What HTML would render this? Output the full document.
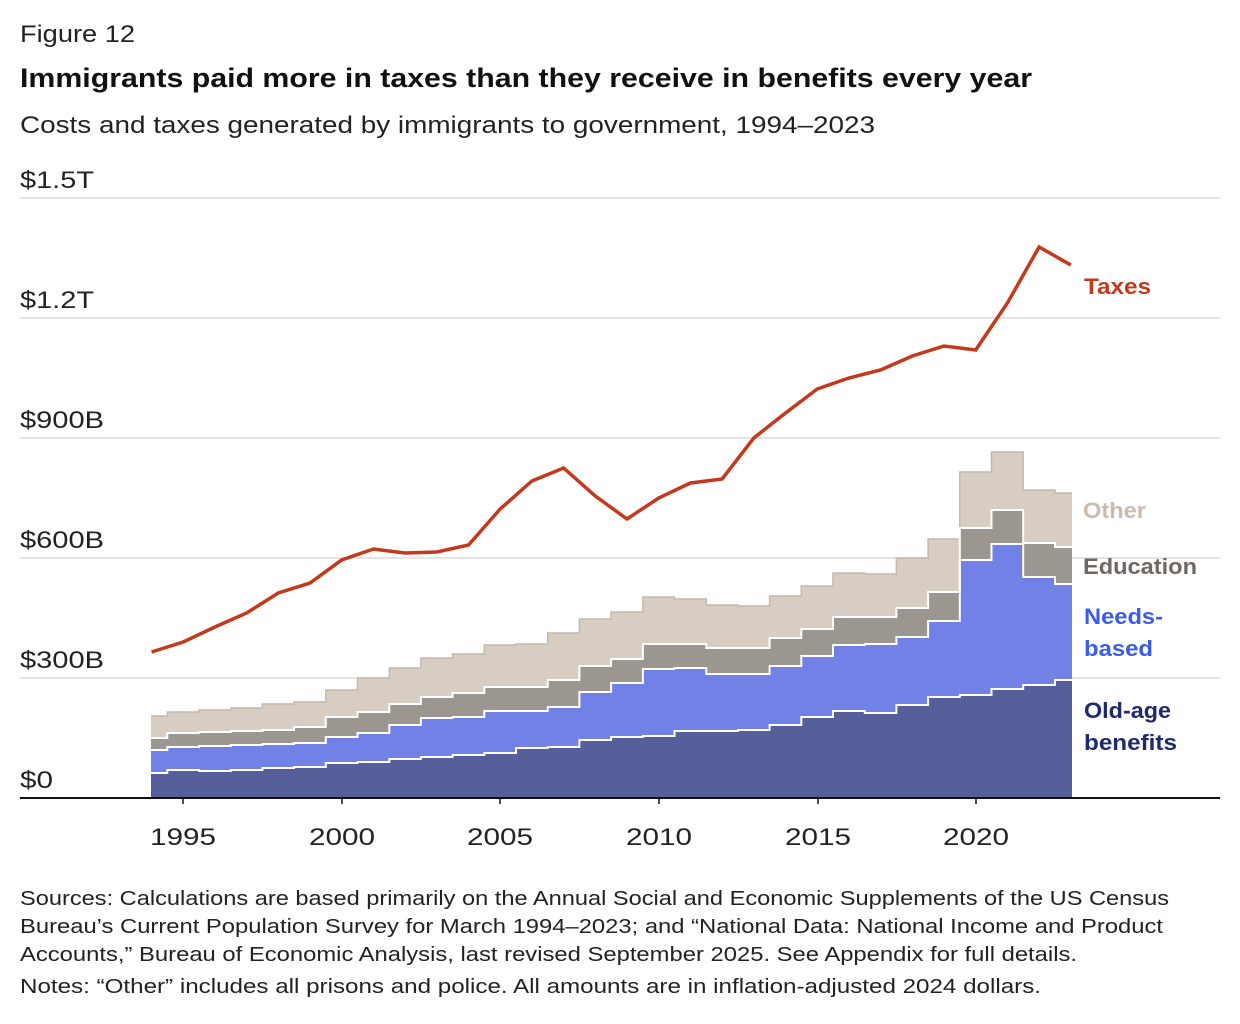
<!DOCTYPE html>
<html><head><meta charset="utf-8"><style>
body{margin:0;background:#fff;width:1240px;height:1024px;overflow:hidden;font-family:"Liberation Sans",sans-serif;color:#222}
svg{position:absolute;left:0;top:0}
</style></head><body>
<svg id="s" width="1240" height="1024" xmlns="http://www.w3.org/2000/svg" font-family="Liberation Sans, sans-serif">
<g lengthAdjust="spacingAndGlyphs">
<text x="20" y="42" font-size="24" fill="#222" textLength="115" lengthAdjust="spacingAndGlyphs">Figure 12</text>
<text x="20" y="87" font-size="27" font-weight="bold" fill="#111" textLength="1012" lengthAdjust="spacingAndGlyphs">Immigrants paid more in taxes than they receive in benefits every year</text>
<text x="20" y="133" font-size="24" fill="#222" textLength="855" lengthAdjust="spacingAndGlyphs">Costs and taxes generated by immigrants to government, 1994–2023</text>
</g>
<g stroke="#dcdcdc" stroke-width="1.5">
<line x1="20" x2="1220" y1="198" y2="198"/><line x1="20" x2="1220" y1="318" y2="318"/>
<line x1="20" x2="1220" y1="438" y2="438"/><line x1="20" x2="1220" y1="558" y2="558"/>
<line x1="20" x2="1220" y1="678" y2="678"/>
</g>
<g font-size="24" fill="#222">
<text x="20" y="188" textLength="74" lengthAdjust="spacingAndGlyphs">$1.5T</text>
<text x="20" y="308" textLength="74" lengthAdjust="spacingAndGlyphs">$1.2T</text>
<text x="20" y="428" textLength="84" lengthAdjust="spacingAndGlyphs">$900B</text>
<text x="20" y="548" textLength="84" lengthAdjust="spacingAndGlyphs">$600B</text>
<text x="20" y="668" textLength="84" lengthAdjust="spacingAndGlyphs">$300B</text>
<text x="20" y="788" textLength="33" lengthAdjust="spacingAndGlyphs">$0</text>
</g>
<g id="areas"></g>
<line x1="20" x2="1220" y1="798" y2="798" stroke="#111" stroke-width="2"/>
<g stroke="#111" stroke-width="1.5">
<line x1="183" x2="183" y1="798" y2="804"/><line x1="342" x2="342" y1="798" y2="804"/><line x1="500" x2="500" y1="798" y2="804"/>
<line x1="659" x2="659" y1="798" y2="804"/><line x1="818" x2="818" y1="798" y2="804"/><line x1="976" x2="976" y1="798" y2="804"/>
</g>
<g font-size="24" fill="#222">
<text x="150" y="845" textLength="66" lengthAdjust="spacingAndGlyphs">1995</text>
<text x="309" y="845" textLength="66" lengthAdjust="spacingAndGlyphs">2000</text>
<text x="467" y="845" textLength="66" lengthAdjust="spacingAndGlyphs">2005</text>
<text x="626" y="845" textLength="66" lengthAdjust="spacingAndGlyphs">2010</text>
<text x="785" y="845" textLength="66" lengthAdjust="spacingAndGlyphs">2015</text>
<text x="943" y="845" textLength="66" lengthAdjust="spacingAndGlyphs">2020</text>
</g>
<g font-size="22" font-weight="bold">
<text x="1084" y="294" fill="#c4391c" textLength="67" lengthAdjust="spacingAndGlyphs">Taxes</text>
<text x="1083" y="518" fill="#c9bcae" textLength="63" lengthAdjust="spacingAndGlyphs">Other</text>
<text x="1083" y="574" fill="#6e6860" textLength="114" lengthAdjust="spacingAndGlyphs">Education</text>
<text x="1084" y="624" fill="#3b5bf0" textLength="79" lengthAdjust="spacingAndGlyphs">Needs-</text>
<text x="1084" y="656" fill="#3b5bf0" textLength="69" lengthAdjust="spacingAndGlyphs">based</text>
<text x="1084" y="718" fill="#1d2a6e" textLength="87" lengthAdjust="spacingAndGlyphs">Old-age</text>
<text x="1084" y="750" fill="#1d2a6e" textLength="93" lengthAdjust="spacingAndGlyphs">benefits</text>
</g>
<g font-size="20" fill="#222">
<text x="20" y="905" textLength="1149" lengthAdjust="spacingAndGlyphs">Sources: Calculations are based primarily on the Annual Social and Economic Supplements of the US Census</text>
<text x="20" y="933" textLength="1143" lengthAdjust="spacingAndGlyphs">Bureau’s Current Population Survey for March 1994–2023; and “National Data: National Income and Product</text>
<text x="20" y="961" textLength="1057" lengthAdjust="spacingAndGlyphs">Accounts,” Bureau of Economic Analysis, last revised September 2025. See Appendix for full details.</text>
<text x="20" y="993" textLength="1021" lengthAdjust="spacingAndGlyphs">Notes: “Other” includes all prisons and police. All amounts are in inflation-adjusted 2024 dollars.</text>
</g>
</svg>
<script>
var old=[773,770,771,770,768,767,763,762,759,757,755,753,748,747,740,737,736,731,731,730,725,717,711,713,705,697,695,689,685,680];
var need=[750,747,746,745,744,743,737,733,725,718,717,711,711,707,692,683,669,668,674,674,666,656,645,644,637,621,560,544,577,584];
var edu=[738,733,732,731,730,727,717,712,704,697,693,687,687,680,666,659,644,644,648,648,638,629,617,617,608,592,528,510,543,547];
var oth=[716,712,710,708,704,702,690,678,668,658,654,645,644,633,619,612,597,599,605,606,596,586,573,574,558,539,472,452,490,493];
var tax=[652,642,627,613,593,583,560,549,553,552,545,509,481,468,496,519,498,483,479,438,413,389,378,370,356,346,350,303,247,265];
function X(i){return 151.5+31.7*i;}
function b(i){if(i<=0)return 151;if(i>=30)return 1072;return X(i)-15.85;}
function edge(t){var d="M"+b(0)+","+t[0];for(var i=0;i<30;i++){d+=" H"+b(i+1).toFixed(1);if(i<29)d+=" V"+t[i+1];}return d;}
function area(t){return edge(t)+" V798 H151 Z";}
var g=document.getElementById("areas"),ns="http://www.w3.org/2000/svg";
function p(d,f,s,w){var e=document.createElementNS(ns,"path");e.setAttribute("d",d);e.setAttribute("fill",f);if(s){e.setAttribute("stroke",s);e.setAttribute("stroke-width",w);}g.appendChild(e);}
p(area(oth),"#d7cdc3");p(area(edu),"#9b9690");p(area(need),"#7181e6");p(area(old),"#565f9a");
p(edge(oth),"none","#c4b8aa",1.5);p(edge(edu),"none","#fff",2);p(edge(need),"none","#fff",2);p(edge(old),"none","#fff",2);
var d="M"+X(0)+","+tax[0];for(var i=1;i<30;i++)d+=" L"+X(i).toFixed(1)+","+tax[i];
p(d,"none","#c4391c",3.5);
</script>
</body></html>
